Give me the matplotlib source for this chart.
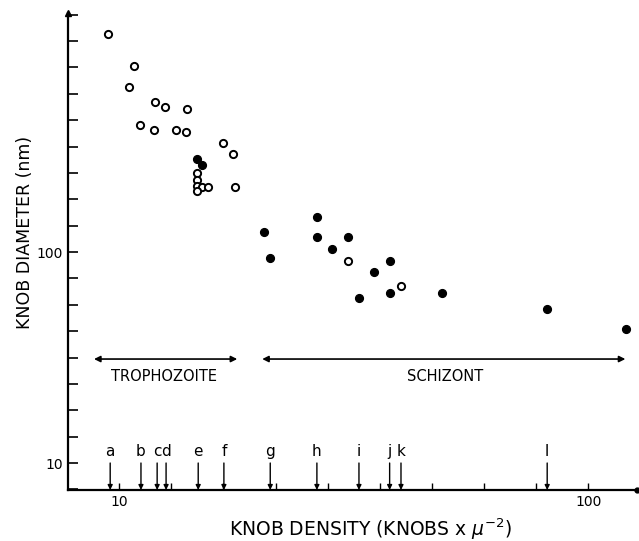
import numpy as np
import matplotlib
matplotlib.use('Agg')
import matplotlib.pyplot as plt
from matplotlib.ticker import FixedLocator, NullFormatter

# Open circles (knob density, knob diameter)
open_density = [9.46, 10.75, 10.52, 11.95, 12.55, 13.94, 11.07, 11.89, 13.23, 13.90,
                16.64, 17.48, 14.64, 14.64, 14.64, 15.01, 15.45, 14.66, 17.62,
                30.7, 39.9]
open_diameter = [1076, 764, 603, 516, 488, 478, 401, 379, 377, 369,
                 327, 292, 236, 219, 205, 204, 203, 194, 203,
                 90.6, 69.2]

# Filled circles
filled_density = [14.64, 14.98, 20.38, 20.99, 26.43, 26.43, 30.73, 28.46,
                  37.83, 34.97, 32.37, 37.83, 48.76, 81.7, 120.1]
filled_diameter = [276, 259, 124.8, 94, 146, 117.4, 117.8, 103.3,
                   90.3, 80.4, 60.5, 63.9, 63.9, 53.7, 43.2]

# Letter markers along the density axis
marker_letters = ['a', 'b', 'c', 'd', 'e', 'f', 'g', 'h', 'i', 'j', 'k', 'l']
marker_density = [9.57, 11.13, 12.05, 12.59, 14.74, 16.72, 20.99, 26.39,
                  32.44, 37.71, 39.87, 81.7]

# Stage ranges
stages = ['TROPHOZOITE', 'SCHIZONT']
stage_start = [8.84, 20.18]
stage_end = [17.85, 119.9]
stage_label_x = [12.48, 49.5]

fig = plt.figure(figsize=(6.39, 5.41), dpi=100)
ax = fig.add_axes([0.1064, 0.0943, 0.8906, 0.8817])
ax.set_xscale('log')
ax.set_yscale('log')
ax.set_xlim(7.78, 127)
ax.set_ylim(7.45, 1358)

ax.plot(open_density, open_diameter, 'o', mfc='white', mec='black', mew=1.4, ms=5.2,
        linestyle='none')
ax.plot(filled_density, filled_diameter, 'o', mfc='black', mec='black', ms=5.6,
        linestyle='none')

# letter arrows
for letter, xd in zip(marker_letters, marker_density):
    ax.annotate('', xy=(xd, 7.45), xytext=(xd, 10.0),
                arrowprops=dict(arrowstyle='-|>', color='black', lw=1.0,
                                mutation_scale=7, shrinkA=0, shrinkB=0))
    ax.text(xd, 11.4, letter, ha='center', va='center', fontsize=11)

# stage ranges
for name, x0, x1, xl in zip(stages, stage_start, stage_end, stage_label_x):
    ax.annotate('', xy=(x0, 31.1), xytext=(x1, 31.1),
                arrowprops=dict(arrowstyle='<|-|>', color='black', lw=1.2,
                                mutation_scale=9, shrinkA=0, shrinkB=0))
    ax.text(xl, 25.6, name, ha='center', va='center', fontsize=10.5)

# spines
ax.spines['top'].set_visible(False)
ax.spines['right'].set_visible(False)
ax.spines['left'].set_linewidth(1.6)
ax.spines['bottom'].set_linewidth(1.6)
ax.plot(1, 0, 'o', color='black', ms=3.5, transform=ax.transAxes, clip_on=False)
ax.plot(0, 1, '^', color='black', ms=5, transform=ax.transAxes, clip_on=False)

# ticks: y divided in 8 log steps per decade, x in 9
yt = [10 ** (k / 8) for k in range(6, 26)]
xt = [10 ** (k / 9) for k in range(8, 20)]
ax.yaxis.set_major_locator(FixedLocator([10, 100]))
ax.yaxis.set_minor_locator(FixedLocator(yt))
ax.xaxis.set_major_locator(FixedLocator([10, 100]))
ax.xaxis.set_minor_locator(FixedLocator(xt))
ax.set_yticklabels(['10', '100'])
ax.set_xticklabels(['10', '100'])
ax.yaxis.set_minor_formatter(NullFormatter())
ax.xaxis.set_minor_formatter(NullFormatter())
ax.tick_params(axis='y', which='both', direction='in', length=7, width=1.2, labelsize=10)
ax.tick_params(axis='x', which='both', direction='in', length=5, width=1.0, labelsize=10)

ax.set_xlabel(r'KNOB DENSITY (KNOBS x $\mu^{-2}$)', fontsize=13.5, va='center')
ax.xaxis.set_label_coords(0.531, -0.082)
ax.set_ylabel('KNOB DIAMETER (nm)', fontsize=12.5, va='center')
ax.yaxis.set_label_coords(-0.0756, 0.539)

fig.savefig('out.png', dpi=100)
